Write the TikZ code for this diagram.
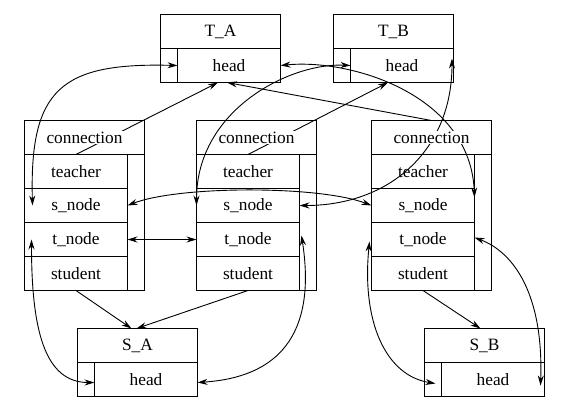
\documentclass[tikz,border=0pt]{standalone}
\usepackage{fontspec}
\setmainfont{Liberation Serif}
\usetikzlibrary{positioning, arrows.meta, backgrounds}
\tikzset{every node/.style={ % Text and sizes of every record cell
font=\fontsize{17.3}{20}\selectfont,
inner sep=0pt, outer sep=0pt},
title/.style={draw, line width=1.5pt, minimum width=120pt, minimum height=34pt}, % Top cell of a record
field/.style={draw, line width=1.5pt, minimum width=103pt, minimum height=34pt},
ptr/.style={draw, line width=1.5pt, minimum width=17pt, minimum height=34pt},
column/.style={draw, line width=1.5pt, minimum width=17pt, minimum height=136pt},
blank/.style={fill=white, inner sep=1pt}, % Hides the links behind a title
link/.style={ % Sets the properties for each pointer
draw, line width=0.9pt, -{Stealth[length=10pt,width=6pt]}},
twoway/.style={link, {Stealth[length=10pt,width=6pt]}-{Stealth[length=10pt,width=6pt]}}}

\begin{document}
\begin{tikzpicture}[x=1pt, y=-1pt]
    \useasboundingbox (0,0) rectangle (567,408);

    \node[title, anchor=north west] (TA) at (160.5,14.5) {T\_A};
    \node[ptr, below right=0pt and 0pt of TA.south west] (TAp) {};
    \node[field, right=0pt of TAp] (TAh) {head};

    \node[title, anchor=north west] (TB) at (333.5,14.5) {T\_B};
    \node[ptr, below right=0pt and 0pt of TB.south west] (TBp) {};
    \node[field, right=0pt of TBp] (TBh) {head};

    \node[title, anchor=north west, label={[blank]center:connection}] (cL) at (24.5,120.5) {};
    \node[field, below right=0pt and 0pt of cL.south west] (cLt) {teacher};
    \node[field, below=0pt of cLt] (cLs) {s\_node};
    \node[field, below=0pt of cLs] (cLn) {t\_node};
    \node[field, below=0pt of cLn] (cLd) {student};
    \node[column, below left=0pt and 0pt of cL.south east] (cLc) {};

    \node[title, anchor=north west, label={[blank]center:connection}] (cM) at (196.5,120.5) {};
    \node[field, below right=0pt and 0pt of cM.south west] (cMt) {teacher};
    \node[field, below=0pt of cMt] (cMs) {s\_node};
    \node[field, below=0pt of cMs] (cMn) {t\_node};
    \node[field, below=0pt of cMn] (cMd) {student};
    \node[column, below left=0pt and 0pt of cM.south east] (cMc) {};

    \node[title, anchor=north west, label={[blank]center:connection}] (cR) at (371.5,120.5) {};
    \node[field, below right=0pt and 0pt of cR.south west] (cRt) {teacher};
    \node[field, below=0pt of cRt] (cRs) {s\_node};
    \node[field, below=0pt of cRs] (cRn) {t\_node};
    \node[field, below=0pt of cRn] (cRd) {student};
    \node[column, below left=0pt and 0pt of cR.south east] (cRc) {};

    \node[title, anchor=north west] (SA) at (77.5,328.5) {S\_A};
    \node[ptr, below right=0pt and 0pt of SA.south west] (SAp) {};
    \node[field, right=0pt of SAp] (SAh) {head};

    \node[title, anchor=north west] (SB) at (424.5,328.5) {S\_B};
    \node[ptr, below right=0pt and 0pt of SB.south west] (SBp) {};
    \node[field, right=0pt of SBp] (SBh) {head};

    \begin{pgfonlayer}{background}
    % teacher and student pointers
    \draw[link] (cLt.north) -- ([xshift=-11pt]TAh.south);
    \draw[link] (cMt.north) -- ([xshift=-14pt]TBh.south);
    \draw[link] (cR.north) -- ([xshift=-2pt]TAh.south);
    \draw[link] (cLd.south) -- ([xshift=-6pt]SA.north);
    \draw[link] (cMd.south) -- ([xshift=-1pt]SA.north);
    \draw[link] (cRd.south) -- ([xshift=-4pt]SB.north);

    % s_node links
    \draw[twoway] (TAp.east) .. controls +(-117,-3) and +(-3,-116) .. ([xshift=8pt]cLs.west);
    \draw[twoway] (TBp.east) .. controls +(-60,-3) and +(0,-96) .. (cMs.west);
    \draw[twoway] (TAh.east) .. controls +(70,-7) and +(-4,-103) .. ([yshift=8pt]cRs.east);
    \draw[twoway] (cMs.east) .. controls +(90,0) and +(0,92) .. ([xshift=-1.5pt, yshift=7pt]TBh.east);
    \draw[twoway] (cLs.east) .. controls +(52,-20) and +(-52,-20) .. (cRs.west);

    % t_node links
    \draw[twoway] (cLn.east) -- (cMn.west);
    \draw[twoway] ([xshift=7pt]cLn.west) .. controls +(0,90) and +(-50,0) .. ([yshift=-3pt]SAp.east);
    \draw[twoway] ([xshift=2pt, yshift=4pt]cMn.east) .. controls +(10,65) and +(108,-7) .. ([yshift=-3pt]SAh.east);
    \draw[twoway] ([xshift=-2pt, yshift=-2pt]cRn.west) .. controls +(-8,80) and +(-50,-8) .. ([xshift=-6pt, yshift=-4pt]SBp.east);
    \draw[twoway] ([yshift=2pt]cRn.east) .. controls +(40,15) and +(3,-90) .. ([xshift=-4pt, yshift=-6pt]SBh.east);
    \end{pgfonlayer}

\end{tikzpicture}
\end{document}
